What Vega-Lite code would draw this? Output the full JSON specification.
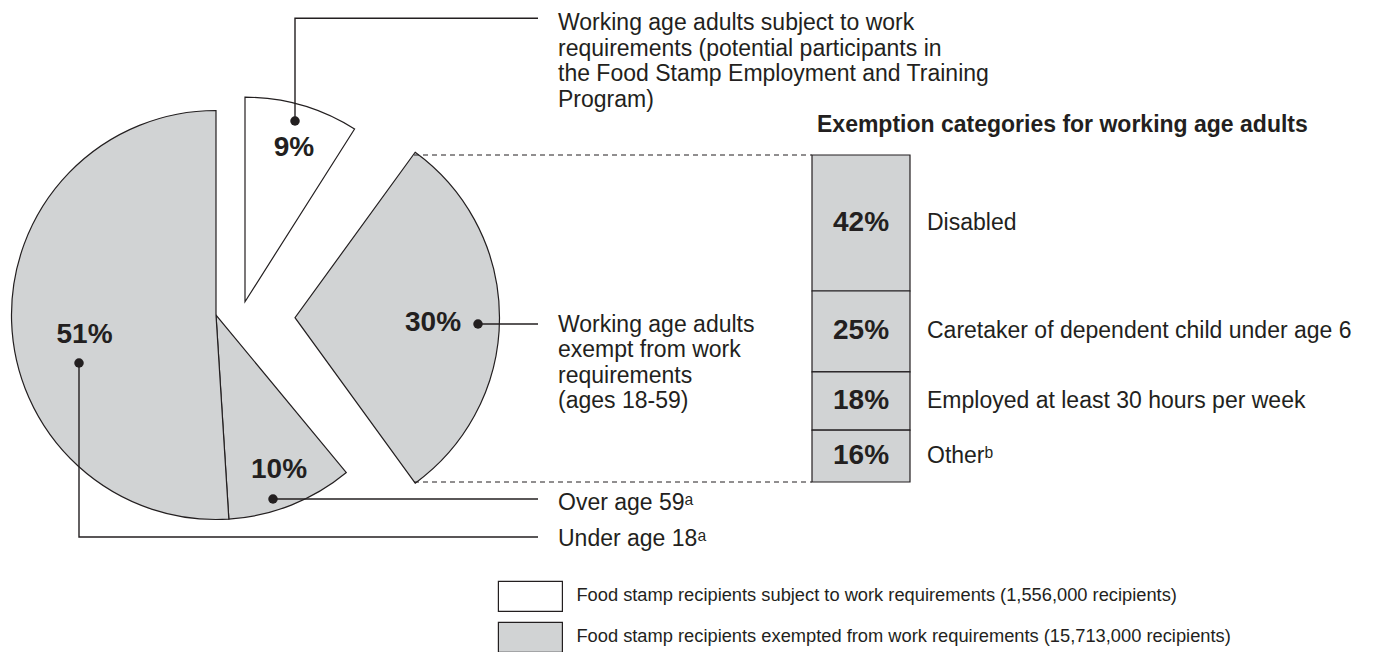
{
  "$schema": "https://vega.github.io/schema/vega-lite/v6.json",
  "width": 1373,
  "height": 652,
  "autosize": {"type": "none"},
  "padding": 0,
  "background": "#ffffff",
  "config": {"view": {"stroke": null}, "font": "Liberation Sans"},
  "datasets": {
    "pie": [
      {"group": "subject", "share": 0.09, "order": 1, "status": "Food stamp recipients subject to work requirements (1,556,000 recipients)"},
      {"group": "exempt1859", "share": 0.30, "order": 2, "status": "Food stamp recipients exempted from work requirements (15,713,000 recipients)"},
      {"group": "over59", "share": 0.10, "order": 3, "status": "Food stamp recipients exempted from work requirements (15,713,000 recipients)"},
      {"group": "under18", "share": 0.51, "order": 4, "status": "Food stamp recipients exempted from work requirements (15,713,000 recipients)"}
    ],
    "pieLabels": [
      {"group": "subject", "x": 294, "y": 148},
      {"group": "exempt1859", "x": 433, "y": 323},
      {"group": "over59", "x": 279, "y": 470},
      {"group": "under18", "x": 84.5, "y": 335}
    ],
    "leaders": [
      {"id": "subject", "seq": 1, "x": 295, "y": 121},
      {"id": "subject", "seq": 2, "x": 295, "y": 18.3},
      {"id": "subject", "seq": 3, "x": 538, "y": 18.3},
      {"id": "exempt1859", "seq": 1, "x": 478, "y": 324},
      {"id": "exempt1859", "seq": 2, "x": 538, "y": 324},
      {"id": "over59", "seq": 1, "x": 273, "y": 499},
      {"id": "over59", "seq": 2, "x": 538, "y": 499},
      {"id": "under18", "seq": 1, "x": 79, "y": 363},
      {"id": "under18", "seq": 2, "x": 79, "y": 537},
      {"id": "under18", "seq": 3, "x": 538, "y": 537}
    ],
    "connectors": [
      {"x": 414, "x2": 812, "y": 155},
      {"x": 414, "x2": 812, "y": 482}
    ],
    "notes": [
      {"text": ["Working age adults subject to work", "requirements (potential participants in", "the Food Stamp Employment and Training", "Program)"], "x": 558, "y": 30},
      {"text": ["Working age adults", "exempt from work", "requirements", "(ages 18-59)"], "x": 558, "y": 331.5},
      {"text": ["Over age 59ᵃ"], "x": 558, "y": 510},
      {"text": ["Under age 18ᵃ"], "x": 558, "y": 546}
    ],
    "heading": [
      {"text": "Exemption categories for working age adults", "x": 817, "y": 125}
    ],
    "exemptions": [
      {"category": "Disabled", "share": 0.42, "order": 1},
      {"category": "Caretaker of dependent child under age 6", "share": 0.25, "order": 2},
      {"category": "Employed at least 30 hours per week", "share": 0.18, "order": 3},
      {"category": "Otherᵇ", "share": 0.16, "order": 4}
    ]
  },
  "layer": [
    {
      "layer": [
        {
          "data": {"name": "pie"},
          "transform": [
            {"stack": "share", "groupby": [], "sort": [{"field": "order", "order": "ascending"}], "as": ["t0", "t1"]},
            {"filter": "datum.order >= 3"}
          ],
          "mark": {"type": "arc", "radius": 204.5, "stroke": "#231f20", "strokeWidth": 1.2},
          "encoding": {
            "x": {"datum": 216, "type": "quantitative", "scale": {"domain": [0, 1373], "nice": false, "zero": false}, "axis": null},
            "y": {"datum": 315, "type": "quantitative", "scale": {"domain": [0, 652], "nice": false, "zero": false, "reverse": true}, "axis": null},
            "theta": {"field": "t0", "type": "quantitative", "stack": null, "scale": {"domain": [0, 1]}},
            "theta2": {"field": "t1"},
            "color": {
              "field": "status", "type": "nominal",
              "scale": {"domain": ["Food stamp recipients subject to work requirements (1,556,000 recipients)", "Food stamp recipients exempted from work requirements (15,713,000 recipients)"], "range": ["#ffffff", "#d1d3d4"]},
              "legend": {
                "orient": "none", "legendX": 519.4, "legendY": 585.4, "direction": "vertical",
                "title": null, "padding": 0,
                "symbolType": "M-3.2,-1.5H3.2V1.5H-3.2Z", "symbolSize": 400,
                "symbolStrokeColor": "#231f20", "symbolStrokeWidth": 1.2, "symbolOffset": 0,
                "labelFontSize": 18.3, "labelFont": "Liberation Sans", "labelColor": "#231f20",
                "labelLimit": 0, "labelOffset": 35, "rowPadding": 5
              }
            }
          }
        },
        {
          "data": {"name": "pie"},
          "transform": [
            {"stack": "share", "groupby": [], "sort": [{"field": "order", "order": "ascending"}], "as": ["t0", "t1"]},
            {"filter": "datum.order == 1"}
          ],
          "mark": {"type": "arc", "radius": 204.5, "stroke": "#231f20", "strokeWidth": 1.2, "xOffset": 29, "yOffset": -13.3},
          "encoding": {
            "x": {"datum": 216, "type": "quantitative", "scale": {"domain": [0, 1373], "nice": false, "zero": false}, "axis": null},
            "y": {"datum": 315, "type": "quantitative", "scale": {"domain": [0, 652], "nice": false, "zero": false, "reverse": true}, "axis": null},
            "theta": {"field": "t0", "type": "quantitative", "stack": null, "scale": {"domain": [0, 1]}},
            "theta2": {"field": "t1"},
            "color": {"field": "status", "type": "nominal"}
          }
        },
        {
          "data": {"name": "pie"},
          "transform": [
            {"stack": "share", "groupby": [], "sort": [{"field": "order", "order": "ascending"}], "as": ["t0", "t1"]},
            {"filter": "datum.order == 2"}
          ],
          "mark": {"type": "arc", "radius": 204.5, "stroke": "#231f20", "strokeWidth": 1.2, "xOffset": 79, "yOffset": 2.7, "thetaOffset": 0.0628, "theta2Offset": 0.0628},
          "encoding": {
            "x": {"datum": 216, "type": "quantitative", "scale": {"domain": [0, 1373], "nice": false, "zero": false}, "axis": null},
            "y": {"datum": 315, "type": "quantitative", "scale": {"domain": [0, 652], "nice": false, "zero": false, "reverse": true}, "axis": null},
            "theta": {"field": "t0", "type": "quantitative", "stack": null, "scale": {"domain": [0, 1]}},
            "theta2": {"field": "t1"},
            "color": {"field": "status", "type": "nominal"}
          }
        },
        {
          "data": {"name": "connectors"},
          "mark": {"type": "rule", "stroke": "#231f20", "strokeWidth": 1, "strokeDash": [5, 4]},
          "encoding": {
            "x": {"field": "x", "type": "quantitative", "scale": {"domain": [0, 1373], "nice": false, "zero": false}, "axis": null},
            "x2": {"field": "x2"},
            "y": {"field": "y", "type": "quantitative", "scale": {"domain": [0, 652], "nice": false, "zero": false, "reverse": true}, "axis": null}
          }
        },
        {
          "data": {"name": "leaders"},
          "mark": {"type": "line", "stroke": "#231f20", "strokeWidth": 1.4, "interpolate": "linear"},
          "encoding": {
            "x": {"field": "x", "type": "quantitative", "scale": {"domain": [0, 1373], "nice": false, "zero": false}, "axis": null},
            "y": {"field": "y", "type": "quantitative", "scale": {"domain": [0, 652], "nice": false, "zero": false, "reverse": true}, "axis": null},
            "detail": {"field": "id", "type": "nominal"},
            "order": {"field": "seq", "type": "quantitative"}
          }
        },
        {
          "data": {"name": "leaders"},
          "transform": [{"filter": "datum.seq == 1"}],
          "mark": {"type": "point", "shape": "circle", "filled": true, "fill": "#231f20", "stroke": null, "size": 90, "opacity": 1},
          "encoding": {
            "x": {"field": "x", "type": "quantitative", "scale": {"domain": [0, 1373], "nice": false, "zero": false}, "axis": null},
            "y": {"field": "y", "type": "quantitative", "scale": {"domain": [0, 652], "nice": false, "zero": false, "reverse": true}, "axis": null}
          }
        },
        {
          "data": {"name": "pieLabels"},
          "transform": [{"lookup": "group", "from": {"data": {"name": "pie"}, "key": "group", "fields": ["share"]}}],
          "mark": {"type": "text", "font": "Liberation Sans", "fontWeight": "bold", "fontSize": 28, "fill": "#231f20", "align": "center", "baseline": "middle"},
          "encoding": {
            "x": {"field": "x", "type": "quantitative", "scale": {"domain": [0, 1373], "nice": false, "zero": false}, "axis": null},
            "y": {"field": "y", "type": "quantitative", "scale": {"domain": [0, 652], "nice": false, "zero": false, "reverse": true}, "axis": null},
            "text": {"field": "share", "type": "quantitative", "format": ".0%"}
          }
        },
        {
          "data": {"name": "notes"},
          "mark": {"type": "text", "font": "Liberation Sans", "fontSize": 23, "lineHeight": 25.6, "fill": "#231f20", "align": "left", "baseline": "alphabetic"},
          "encoding": {
            "x": {"field": "x", "type": "quantitative", "scale": {"domain": [0, 1373], "nice": false, "zero": false}, "axis": null},
            "y": {"field": "y", "type": "quantitative", "scale": {"domain": [0, 652], "nice": false, "zero": false, "reverse": true}, "axis": null},
            "text": {"field": "text", "type": "nominal"}
          }
        },
        {
          "data": {"name": "heading"},
          "mark": {"type": "text", "font": "Liberation Sans", "fontWeight": "bold", "fontSize": 23, "fill": "#231f20", "align": "left", "baseline": "middle"},
          "encoding": {
            "x": {"field": "x", "type": "quantitative", "scale": {"domain": [0, 1373], "nice": false, "zero": false}, "axis": null},
            "y": {"field": "y", "type": "quantitative", "scale": {"domain": [0, 652], "nice": false, "zero": false, "reverse": true}, "axis": null},
            "text": {"field": "text", "type": "nominal"}
          }
        }
      ]
    },
    {
      "data": {"name": "exemptions"},
      "transform": [
        {"stack": "share", "groupby": [], "sort": [{"field": "order", "order": "ascending"}], "as": ["s0", "s1"]},
        {"calculate": "(datum.s0 + datum.s1) / 2", "as": "mid"}
      ],
      "layer": [
        {
          "mark": {"type": "rect", "fill": "#d1d3d4", "stroke": "#231f20", "strokeWidth": 1.2},
          "encoding": {
            "x": {"datum": 812, "type": "quantitative", "scale": {"domain": [0, 1373], "nice": false, "zero": false}, "axis": null},
            "x2": {"datum": 910},
            "y": {"field": "s0", "type": "quantitative", "scale": {"domain": [-0.47875, 1.53509], "nice": false, "zero": false, "reverse": true}, "axis": null},
            "y2": {"field": "s1"}
          }
        },
        {
          "mark": {"type": "text", "font": "Liberation Sans", "fontWeight": "bold", "fontSize": 28, "fill": "#231f20", "align": "center", "baseline": "middle"},
          "encoding": {
            "x": {"datum": 861, "type": "quantitative", "scale": {"domain": [0, 1373], "nice": false, "zero": false}, "axis": null},
            "y": {"field": "mid", "type": "quantitative", "scale": {"domain": [-0.47875, 1.53509], "nice": false, "zero": false, "reverse": true}, "axis": null},
            "text": {"field": "share", "type": "quantitative", "format": ".0%"}
          }
        },
        {
          "mark": {"type": "text", "font": "Liberation Sans", "fontSize": 23, "fill": "#231f20", "align": "left", "baseline": "middle"},
          "encoding": {
            "x": {"datum": 927, "type": "quantitative", "scale": {"domain": [0, 1373], "nice": false, "zero": false}, "axis": null},
            "y": {"field": "mid", "type": "quantitative", "scale": {"domain": [-0.47875, 1.53509], "nice": false, "zero": false, "reverse": true}, "axis": null},
            "text": {"field": "category", "type": "nominal"}
          }
        }
      ]
    }
  ],
  "resolve": {"scale": {"y": "independent"}}
}
